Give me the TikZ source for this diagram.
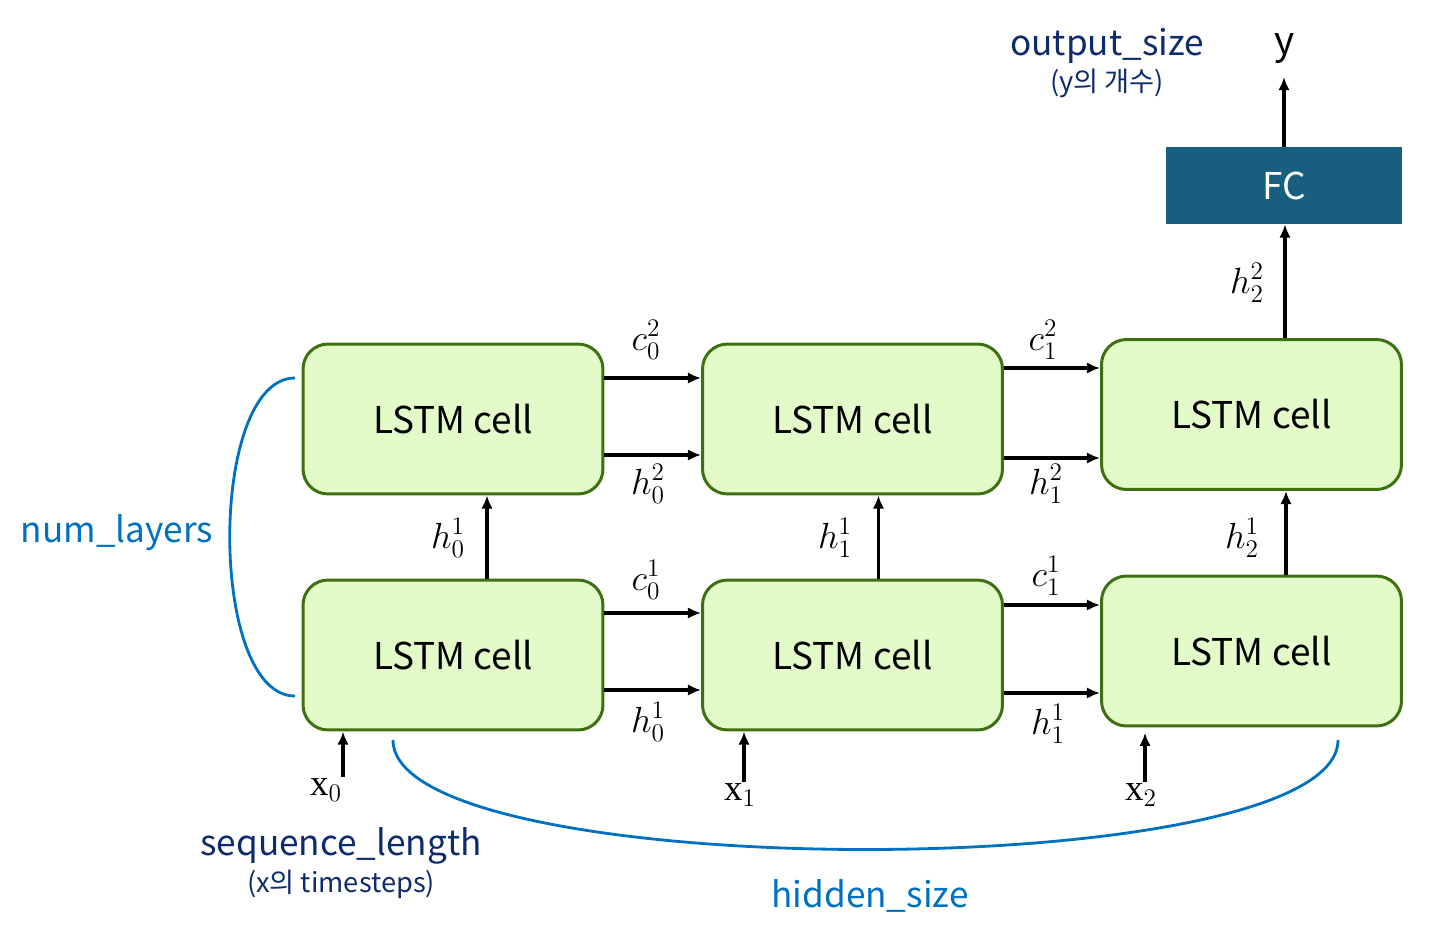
\documentclass[tikz,border=0pt]{standalone}
\usepackage{amsmath,amssymb}
\usepackage{fontspec}
\setmainfont{Noto Sans CJK KR}
\newfontfamily\serifx{Liberation Serif}
\usepackage{tikz}
\usetikzlibrary{arrows.meta}
\definecolor{cellfill}{HTML}{E3FBC9}
\definecolor{celldraw}{HTML}{3E7012}
\definecolor{fcblue}{HTML}{175E7F}
\definecolor{dimblue}{HTML}{0070C0}
\definecolor{navy}{HTML}{0D2C6C}
\begin{document}
\begin{tikzpicture}[x = 0.02cm, y = -0.02cm, >={Latex[length=7.5pt,width=6.5pt]},
    cell/.style = {draw=celldraw, line width=1.7pt, fill=cellfill, rounded corners=0.5cm,
      minimum width=6cm, minimum height=3cm, inner sep=0pt, font=\fontsize{21}{25}\selectfont},
    flow/.style = {->, line width=1.9pt},
    lab/.style = {font=\fontsize{22.5}{26}\selectfont},
    dim/.style = {dimblue, line width=1.6pt},
    big/.style = {font=\fontsize{20}{24}\selectfont},
    small/.style = {font=\fontsize{15.5}{18}\selectfont}]
        \useasboundingbox (0,0) rectangle (1431,930);
        \node[cell] (t1) at (453,419) {LSTM cell};
        \node[cell] (t2) at (852.5,419) {LSTM cell};
        \node[cell] (t3) at (1251.5,414.5) {LSTM cell};
        \node[cell] (b1) at (453,655) {LSTM cell};
        \node[cell] (b2) at (852.5,655) {LSTM cell};
        \node[cell] (b3) at (1251.5,651) {LSTM cell};
        \node[fill=fcblue, text=white, minimum width=4.72cm, minimum height=1.54cm, font=\fontsize{21}{25}\selectfont] (fc) at (1284,185.5) {FC};
        \node[font=\fontsize{22}{26}\selectfont] (y) at (1285,49) {y};
        \node[big, navy] (outsize) at (1107,46) {output\_size};
        \node[small, navy] (outnote) at (1107,83) {(y의 개수)};
        \node[big, navy] (seqlen) at (341,846) {sequence\_length};
        \node[small, navy] (seqnote) at (341,884) {(x의 timesteps)};
        \node[big, dimblue] (layers) at (117,533) {num\_layers};
        \node[big, dimblue] (hidden) at (870,896) {hidden\_size};
        \node[font=\fontsize{21}{25}\selectfont, inner sep=1pt] (x0) at (326,790) {{\serifx x}$_0$};
        \node[font=\fontsize{21}{25}\selectfont, inner sep=1pt] (x1) at (740,795) {{\serifx x}$_1$};
        \node[font=\fontsize{21}{25}\selectfont, inner sep=1pt] (x2) at (1141,795) {{\serifx x}$_2$};
        \draw[flow] ([yshift=0.82cm]t1.east) -- ([yshift=0.82cm]t1.east -| t2.west);
        \draw[flow] ([yshift=-0.72cm]t1.east) -- ([yshift=-0.72cm]t1.east -| t2.west);
        \draw[flow] ([yshift=1.02cm]t2.east) -- ([yshift=1.02cm]t2.east -| t3.west);
        \draw[flow] ([yshift=-0.78cm]t2.east) -- ([yshift=-0.78cm]t2.east -| t3.west);
        \draw[flow] ([yshift=0.84cm]b1.east) -- ([yshift=0.84cm]b1.east -| b2.west);
        \draw[flow] ([yshift=-0.7cm]b1.east) -- ([yshift=-0.7cm]b1.east -| b2.west);
        \draw[flow] ([yshift=1cm]b2.east) -- ([yshift=1cm]b2.east -| b3.west);
        \draw[flow] ([yshift=-0.76cm]b2.east) -- ([yshift=-0.76cm]b2.east -| b3.west);
        \draw[flow] ([xshift=0.68cm]b1.north) -- ([xshift=0.68cm]b1.north |- t1.south);
        \draw[flow] ([xshift=0.52cm]b2.north) -- ([xshift=0.52cm]b2.north |- t2.south);
        \draw[flow] ([xshift=0.69cm]b3.north) -- ([xshift=0.69cm]b3.north |- t3.south);
        \draw[flow] ([xshift=0.67cm]t3.north) -- ([xshift=0.67cm]t3.north |- fc.south);
        \draw[flow] (fc.north) -- (fc.north |- 0,77);
        \draw[flow] ([xshift=-2.2cm]b1.south |- x0.north) -- ([xshift=-2.2cm]b1.south);
        \draw[flow] ([xshift=-2.17cm]b2.south |- x1.north) -- ([xshift=-2.17cm]b2.south);
        \draw[flow, shorten >=3pt] ([xshift=-2.13cm]b3.south |- x2.north) -- ([xshift=-2.13cm]b3.south);
        \node[lab] at (646,340) {$c_0^2$};
        \node[lab] at (648,484) {$h_0^2$};
        \node[lab] at (1043,340) {$c_1^2$};
        \node[lab] at (1046,484) {$h_1^2$};
        \node[lab] at (646,580) {$c_0^1$};
        \node[lab] at (648,722) {$h_0^1$};
        \node[lab] at (1046,576) {$c_1^1$};
        \node[lab] at (1048,724) {$h_1^1$};
        \node[lab] at (448,538) {$h_0^1$};
        \node[lab] at (835,538) {$h_1^1$};
        \node[lab] at (1242,538) {$h_2^1$};
        \node[lab] at (1247,283) {$h_2^2$};
        \draw[dim] (295,378) .. controls (208,378) and (208,696) .. (295,696);
        \draw[dim] (393,740) .. controls (393,886) and (1338,886) .. (1338,740);
      \end{tikzpicture}
\end{document}
